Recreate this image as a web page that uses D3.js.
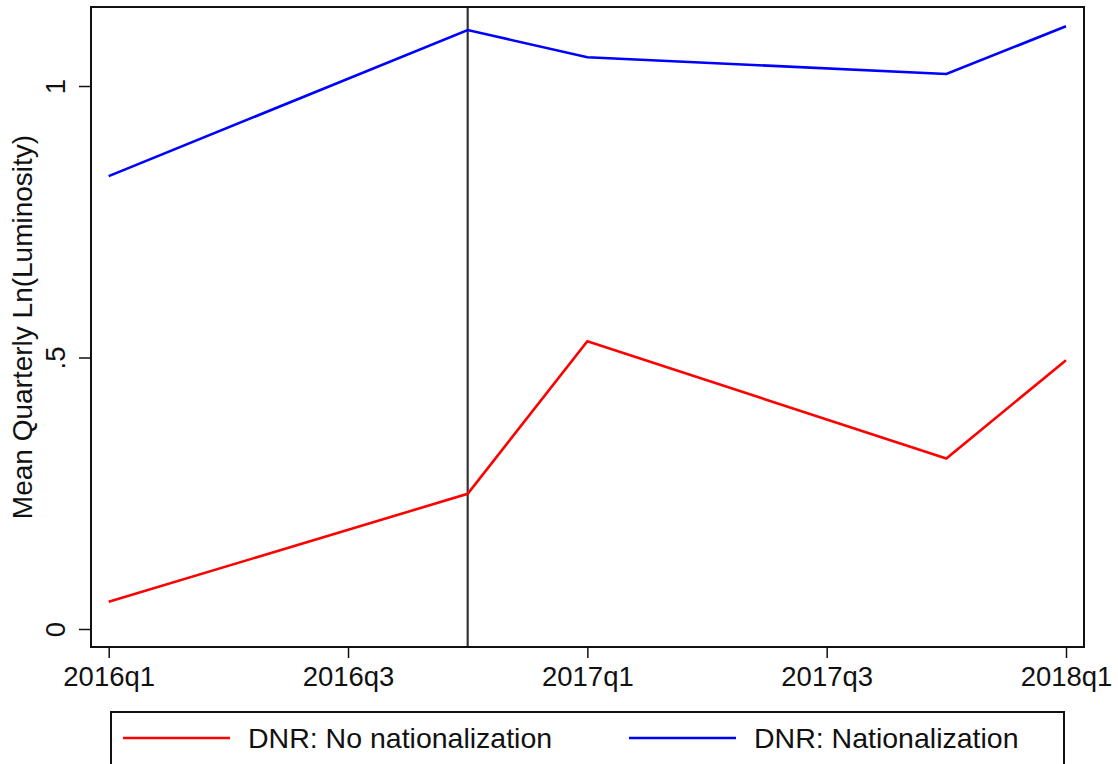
<!DOCTYPE html>
<meta charset="utf-8">
<style>
body { margin: 0; background: #fff; }
svg { font-family: "Liberation Sans", Arial, Helvetica, sans-serif; }
.frame { fill: none; stroke: #111; stroke-width: 2px; }
.line { fill: none; stroke-width: 2.6px; stroke-linejoin: miter; }
.axis text { font-size: 27.5px; fill: #111; }
.axis path { display: none; }
.axis line { stroke: #111; stroke-width: 1.5px; }
</style>
<body>
<script src="https://d3js.org/d3.v7.min.js"></script>
<script>
// quarters on the x axis
var quarters = ["2016q1", "2016q2", "2016q3", "2016q4", "2017q1",
                "2017q2", "2017q3", "2017q4", "2018q1"];
var xTicks = ["2016q1", "2016q3", "2017q1", "2017q3", "2018q1"];
var yTicks = [0, 0.5, 1];

// observed quarters for each series
var obsQuarters = ["2016q1", "2016q4", "2017q1", "2017q4", "2018q1"];
var noNational = [0.050, 0.249, 0.530, 0.314, 0.495];
var national   = [0.834, 1.103, 1.053, 1.022, 1.110];

var cutoff = "2016q4";

var series = [
    { name: "DNR: No nationalization", color: "#ff0000", values: noNational },
    { name: "DNR: Nationalization",    color: "#0000ff", values: national }
];

var width = 1118, height = 764;
var box = { left: 91, right: 1084, top: 7, bottom: 647 };

var svg = d3.select("body").append("svg")
    .attr("width", width)
    .attr("height", height);

var x = d3.scalePoint().domain(quarters).range([108.7, 1066]);
var y = d3.scaleLinear().domain([0, 1]).range([629, 86]);

// vertical line at the nationalization quarter
svg.append("line")
    .attr("x1", x(cutoff)).attr("x2", x(cutoff))
    .attr("y1", box.top).attr("y2", box.bottom)
    .attr("stroke", "#333")
    .attr("stroke-width", 2.2);

var valueline = d3.line()
    .x(function(d) { return x(d.q); })
    .y(function(d) { return y(d.v); });

series.forEach(function(s) {
    var pts = obsQuarters.map(function(q, i) { return { q: q, v: s.values[i] }; });
    svg.append("path")
        .datum(pts)
        .attr("class", "line")
        .attr("stroke", s.color)
        .attr("d", valueline);
});

// plot frame
svg.append("rect")
    .attr("class", "frame")
    .attr("x", box.left).attr("y", box.top)
    .attr("width", box.right - box.left)
    .attr("height", box.bottom - box.top);

// x axis
var xAxis = svg.append("g")
    .attr("class", "axis")
    .attr("transform", "translate(0," + box.bottom + ")")
    .call(d3.axisBottom(x).tickValues(xTicks).tickSize(11).tickPadding(8));
xAxis.selectAll("text").attr("dy", "0.71em");

// y axis
var yAxis = svg.append("g")
    .attr("class", "axis")
    .attr("transform", "translate(" + box.left + ",0)")
    .call(d3.axisLeft(y).tickValues(yTicks).tickSize(12)
        .tickFormat(function(d) { return d === 0.5 ? ".5" : d3.format("d")(d); }));
yAxis.selectAll("text")
    .attr("x", null).attr("dy", null)
    .attr("text-anchor", "middle")
    .attr("transform", "translate(-26,0) rotate(-90)");

// y axis title
svg.append("text")
    .attr("transform", "translate(32," + ((box.top + box.bottom) / 2) + ") rotate(-90)")
    .attr("text-anchor", "middle")
    .style("font-size", "28px")
    .style("fill", "#111")
    .text("Mean Quarterly Ln(Luminosity)");

// legend
var legend = svg.append("g");
legend.append("rect")
    .attr("x", 111).attr("y", 712)
    .attr("width", 1064 - 111).attr("height", 90)
    .attr("fill", "none")
    .attr("stroke", "#111")
    .attr("stroke-width", 2);

var legX = [123, 629];
series.forEach(function(s, i) {
    legend.append("line")
        .attr("x1", legX[i]).attr("x2", legX[i] + 107)
        .attr("y1", 738).attr("y2", 738)
        .attr("stroke", s.color)
        .attr("stroke-width", 2.6);
    legend.append("text")
        .attr("x", legX[i] + 125).attr("y", 748)
        .style("font-size", "28.5px")
        .style("fill", "#111")
        .text(s.name);
});
</script>
</body>
